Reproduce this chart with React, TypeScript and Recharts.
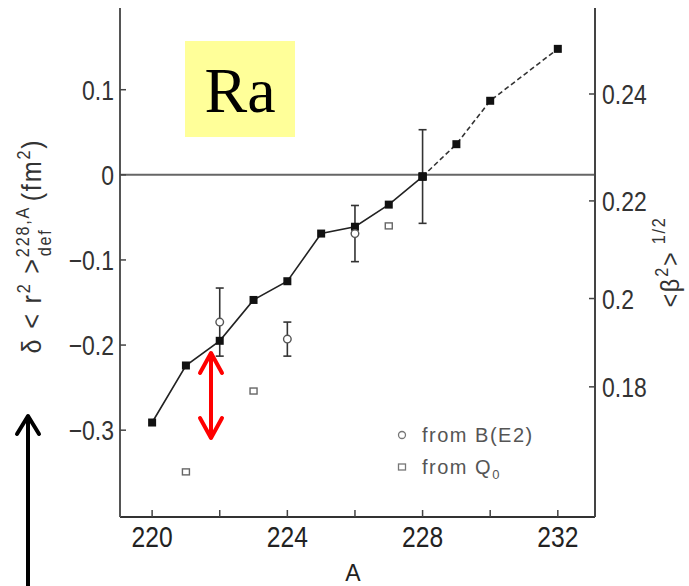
import React from "react";
import { ComposedChart, Line, XAxis, YAxis, ReferenceLine, ErrorBar, Legend } from "recharts";

// filled points, connected (solid part up to A=228, dashed beyond)
const massNumbers = [220, 221, 222, 223, 224, 225, 226, 227, 228];
const deltaR2 = [-0.291, -0.224, -0.195, -0.147, -0.125, -0.069, -0.061, -0.035, -0.002];
const upperMass = [228, 229, 230, 232];
const upperDeltaR2 = [-0.002, 0.036, 0.087, 0.148];

// the one filled point that carries an error bar
const errMass = [228];
const errValues = [-0.002];
const errSizes = [0.055];

// open circles: from B(E2)
const be2Mass = [222, 224, 226];
const be2Values = [-0.173, -0.193, -0.069];
const be2Err = [0.04, 0.02, 0.033];

// open squares: from Q0
const q0Mass = [221, 223, 227];
const q0Values = [-0.349, -0.254, -0.06];

const xTicks = [220, 222, 224, 226, 228, 230, 232];
const xLabelled = [220, 224, 228, 232];
const leftTicks = [-0.3, -0.2, -0.1, 0, 0.1];
// right axis is <beta^2>^(1/2); it runs linear in beta^2
const rightTickLabels = [0.18, 0.2, 0.22, 0.24];
const rightTicks = rightTickLabels.map((b) => b * b);

const lowerRows = massNumbers.map((a, i) => ({ A: a, v: deltaR2[i] }));
const upperRows = upperMass.map((a, i) => ({ A: a, v: upperDeltaR2[i] }));
const errRows = errMass.map((a, i) => ({ A: a, v: errValues[i], err: errSizes[i] }));
const be2Rows = be2Mass.map((a, i) => ({ A: a, v: be2Values[i], err: be2Err[i] }));
const q0Rows = q0Mass.map((a, i) => ({ A: a, v: q0Values[i] }));

const FONT = "'Liberation Sans', Arial, sans-serif";

const fmt = (v: number) => (v < 0 ? "\u2212" + String(-v) : String(v));

function LeftTick(props: any) {
  const { x, y, payload } = props;
  const ax = x + 6;
  return (
    <g>
      <line x1={ax} x2={ax + 6} y1={y} y2={y} stroke="#444" strokeWidth={1.5} />
      <text transform={`translate(${x},${y}) scale(0.82,1)`} textAnchor="end" dy="0.36em" fontSize={28} fontFamily={FONT} fill="#333">
        {fmt(payload.value)}
      </text>
    </g>
  );
}

function RightTick(props: any) {
  const { x, y, payload } = props;
  const ax = x - 7;
  const label = rightTickLabels[rightTicks.findIndex((t) => Math.abs(t - payload.value) < 1e-9)];
  return (
    <g>
      <line x1={ax} x2={ax - 6} y1={y} y2={y} stroke="#444" strokeWidth={1.5} />
      <text transform={`translate(${x},${y}) scale(0.82,1)`} textAnchor="start" dy="0.36em" fontSize={28} fontFamily={FONT} fill="#333">
        {String(label)}
      </text>
    </g>
  );
}

function BottomTick(props: any) {
  const { x, y, payload } = props;
  const ay = y - 8;
  return (
    <g>
      <line x1={x} x2={x} y1={ay} y2={ay - 7} stroke="#444" strokeWidth={1.5} />
      {xLabelled.includes(payload.value) && (
        <text transform={`translate(${x},${y}) scale(0.82,1)`} textAnchor="middle" dy="0.72em" fontSize={30} fontFamily={FONT} fill="#222">
          {String(payload.value)}
        </text>
      )}
    </g>
  );
}

const filledDot = (p: any) => (
  <rect key={`f-${p.index}`} x={p.cx - 4} y={p.cy - 4} width={8} height={8} fill="#111" />
);
const openCircle = (p: any) => (
  <circle key={`c-${p.index}`} cx={p.cx} cy={p.cy} r={3.8} fill="#fff" stroke="#555" strokeWidth={1.4} />
);
const openSquare = (p: any) => (
  <rect key={`s-${p.index}`} x={p.cx - 3.5} y={p.cy - 3} width={7} height={6} fill="#fff" stroke="#666" strokeWidth={1.4} />
);

function LegendBox() {
  return (
    <svg width={200} height={72}>
      <circle cx={8} cy={15} r={3.5} fill="none" stroke="#777" strokeWidth={1.3} />
      <text x={28} y={15} dy="0.36em" fontSize={20} letterSpacing={1.5} fontFamily={FONT} fill="#555">from B(E2)</text>
      <rect x={4.5} y={44} width={7} height={6} fill="none" stroke="#777" strokeWidth={1.3} />
      <text x={28} y={47} dy="0.36em" fontSize={20} letterSpacing={1.5} fontFamily={FONT} fill="#555">
        from Q<tspan fontSize={13} dy={5}>0</tspan>
      </text>
    </svg>
  );
}

export default function App() {
  return (
    <div style={{ position: "absolute", left: 0, top: 0, width: 689, height: 586, background: "#fff" }}>
      <ComposedChart width={689} height={586} margin={{ top: 8, right: 34, left: 60, bottom: 29 }}>
        <XAxis xAxisId="bottom" dataKey="A" type="number" domain={[219.05, 233.1]} allowDataOverflow ticks={xTicks} interval={0}
          height={40} tickSize={0} tickMargin={8} tickLine={false} tick={<BottomTick />} axisLine={{ stroke: "#333", strokeWidth: 2 }} />
        <XAxis xAxisId="top" orientation="top" dataKey="A" type="number" domain={[219.05, 233.1]} allowDataOverflow height={0}
          tick={false} tickLine={false} axisLine={{ stroke: "#555", strokeWidth: 2 }} />
        <YAxis yAxisId="left" type="number" domain={[-0.402, 0.196]} allowDataOverflow ticks={leftTicks} interval={0}
          width={60} tickSize={0} tickMargin={6} tickLine={false} tick={<LeftTick />} axisLine={{ stroke: "#555", strokeWidth: 2 }} />
        <YAxis yAxisId="right" orientation="right" type="number" domain={[0.0212, 0.065]} allowDataOverflow ticks={rightTicks} interval={0}
          width={60} tickSize={0} tickMargin={7} tickLine={false} tick={<RightTick />} axisLine={{ stroke: "#444", strokeWidth: 2 }} />
        <ReferenceLine xAxisId="bottom" yAxisId="left" y={0} stroke="#666" strokeWidth={2} />
        <Legend layout="vertical" align="center" verticalAlign="middle" content={() => <LegendBox />}
          wrapperStyle={{ left: 394, top: 420, width: 200, height: 72 }} />
        <Line xAxisId="bottom" yAxisId="left" data={lowerRows} dataKey="v" stroke="#222" strokeWidth={1.6}
          dot={filledDot} activeDot={false} isAnimationActive={false} legendType="none" />
        <Line xAxisId="bottom" yAxisId="left" data={upperRows} dataKey="v" stroke="#333" strokeWidth={1.6} strokeDasharray="5 3"
          dot={filledDot} activeDot={false} isAnimationActive={false} legendType="none" />
        <Line xAxisId="bottom" yAxisId="left" data={errRows} dataKey="v" stroke="none" dot={filledDot} activeDot={false}
          isAnimationActive={false} legendType="none">
          <ErrorBar dataKey="err" direction="y" width={4} stroke="#333" strokeWidth={1.6} />
        </Line>
        <Line xAxisId="bottom" yAxisId="left" data={be2Rows} dataKey="v" stroke="none" dot={openCircle} activeDot={false}
          isAnimationActive={false} name="from B(E2)">
          <ErrorBar dataKey="err" direction="y" width={4} stroke="#333" strokeWidth={1.6} />
        </Line>
        <Line xAxisId="bottom" yAxisId="left" data={q0Rows} dataKey="v" stroke="none" dot={openSquare} activeDot={false}
          isAnimationActive={false} name="from Q0" />
      </ComposedChart>
      <svg width={689} height={586} style={{ position: "absolute", left: 0, top: 0, pointerEvents: "none" }}>
        <rect x={185} y={41} width={110} height={96} fill="#ffff99" />
        <text x={240} y={112} textAnchor="middle" fontSize={64} fontFamily="'Liberation Serif', 'Times New Roman', serif" fill="#000">Ra</text>
        <text transform="translate(41,246) rotate(-90) scale(0.9,1)" textAnchor="middle" fontSize={28} fontFamily={FONT} fill="#333" letterSpacing={2}>
          δ &lt; r<tspan fontSize={18} dy={-11}>2</tspan>
          <tspan dy={11}> &gt;</tspan>
          <tspan fontSize={18} dy={-12}>228,A</tspan>
          <tspan fontSize={18} dx={-56} dy={22}>def</tspan>
          <tspan dx={30} dy={-10}>(fm</tspan>
          <tspan fontSize={18} dy={-11}>2</tspan>
          <tspan dy={11}>)</tspan>
        </text>
        <text transform="translate(679,262) rotate(-90) scale(0.9,1)" textAnchor="middle" fontSize={26} fontFamily={FONT} fill="#333" letterSpacing={2}>
          &lt;β<tspan fontSize={18} dy={-11}>2</tspan>
          <tspan dy={11}>&gt;</tspan>
          <tspan fontSize={18} dy={-14}> 1/2</tspan>
        </text>
        <text x={353} y={581} textAnchor="middle" fontSize={23} fontFamily={FONT} fill="#222">A</text>
        <g stroke="#ff0000" strokeWidth={4} fill="none" strokeLinecap="round" strokeLinejoin="round">
          <line x1={211} y1={354} x2={211} y2={437} />
          <polyline points="200,373 211,353 222,373" />
          <polyline points="200,418 211,438 222,418" />
        </g>
        <g stroke="#000" strokeWidth={4} fill="none" strokeLinecap="round" strokeLinejoin="round">
          <line x1={28} y1={417} x2={28} y2={590} />
          <polyline points="17,434 28,416 39,434" />
        </g>
      </svg>
    </div>
  );
}
